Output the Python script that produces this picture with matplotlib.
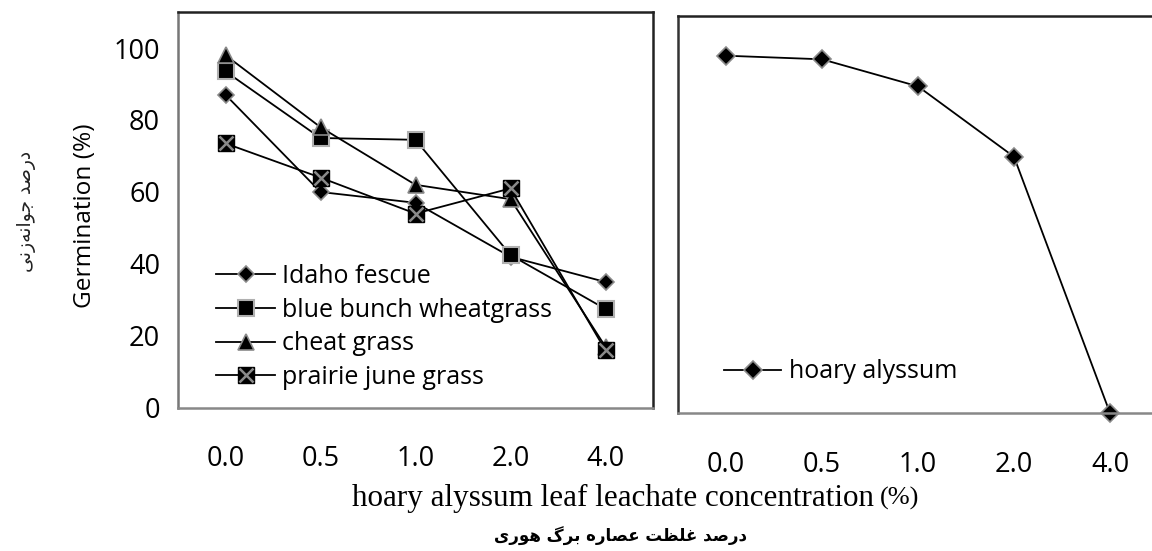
import matplotlib
matplotlib.use('Agg')
import matplotlib.pyplot as plt
import numpy as np

# data
concentrations = ['0.0', '0.5', '1.0', '2.0', '4.0']
idaho_fescue = [87, 60, 57, 42, 35]
blue_bunch = [93.5, 75, 74.5, 42.5, 27.5]
cheat_grass = [98, 78, 62, 58, 17]
prairie_june = [73.5, 64, 54, 61, 16]
hoary_alyssum = [99, 98, 90.5, 71, 0]

# crude persian shaping (matplotlib has no arabic shaping)
forms = {
    'ا': ('\uFE8D', '\uFE8E', None, None),
    'ب': ('\uFE8F', '\uFE90', '\uFE91', '\uFE92'),
    'ت': ('\uFE95', '\uFE96', '\uFE97', '\uFE98'),
    'ج': ('\uFE9D', '\uFE9E', '\uFE9F', '\uFEA0'),
    'د': ('\uFEA9', '\uFEAA', None, None),
    'ر': ('\uFEAD', '\uFEAE', None, None),
    'ز': ('\uFEAF', '\uFEB0', None, None),
    'ص': ('\uFEB9', '\uFEBA', '\uFEBB', '\uFEBC'),
    'ظ': ('\uFEC5', '\uFEC6', '\uFEC7', '\uFEC8'),
    'ع': ('\uFEC9', '\uFECA', '\uFECB', '\uFECC'),
    'غ': ('\uFECD', '\uFECE', '\uFECF', '\uFED0'),
    'ل': ('\uFEDD', '\uFEDE', '\uFEDF', '\uFEE0'),
    'ن': ('\uFEE5', '\uFEE6', '\uFEE7', '\uFEE8'),
    'ه': ('\uFEE9', '\uFEEA', '\uFEEB', '\uFEEC'),
    'و': ('\uFEED', '\uFEEE', None, None),
    'ی': ('\uFBFC', '\uFBFD', '\uFBFE', '\uFBFF'),
    'گ': ('\uFB92', '\uFB93', '\uFB94', '\uFB95'),
}


def shape(txt):
    out = []
    for i, ch in enumerate(txt):
        if ch not in forms:
            if ch != '\u200c':
                out.append(ch)
            continue
        prev = txt[i - 1] if i > 0 else ''
        nxt = txt[i + 1] if i + 1 < len(txt) else ''
        prev_join = prev in forms and forms[prev][2] is not None
        next_join = nxt in forms
        dual = forms[ch][2] is not None
        if prev_join and next_join and dual:
            out.append(forms[ch][3])
        elif prev_join:
            out.append(forms[ch][1])
        elif next_join and dual:
            out.append(forms[ch][2])
        else:
            out.append(forms[ch][0])
    return ''.join(out[::-1])


plt.rcParams['font.family'] = ['Open Sans', 'DejaVu Sans']

W, H = 1152, 551
fig = plt.figure(figsize=(W / 100, H / 100), dpi=100)

ax1 = fig.add_axes([178 / W, 1 - 408 / H, 475 / W, 396 / H])
ax2 = fig.add_axes([678 / W, 1 - 413 / H, 480 / W, 397 / H])

x = np.arange(len(concentrations))
grey = '#8a8a8a'

l1, = ax1.plot(x, idaho_fescue, color='black', lw=1.3, marker='D', ms=8,
               mfc='black', mec=grey, mew=1.2, label='Idaho fescue')
l2, = ax1.plot(x, blue_bunch, color='black', lw=1.3, marker='s', ms=11,
               mfc='black', mec='#b0b0b0', mew=1.5, label='blue bunch wheatgrass')
l3, = ax1.plot(x, cheat_grass, color='black', lw=1.3, marker='^', ms=12,
               mfc='black', mec=grey, mew=1.2, label='cheat grass')
l4a, = ax1.plot(x, prairie_june, color='black', lw=1.3, marker='s', ms=11,
                mfc='black', mec='black', mew=1)
l4b, = ax1.plot(x, prairie_june, color='none', marker='x', ms=10,
                mec=grey, mew=1.8)

ax1.legend([l1, l2, l3, (l4a, l4b)],
           ['Idaho fescue', 'blue bunch wheatgrass', 'cheat grass', 'prairie june grass'],
           loc='lower left', bbox_to_anchor=(0.081, 0.045), frameon=False,
           fontsize=18, handlelength=2.35, handletextpad=0.28, labelspacing=0.35,
           borderpad=0, borderaxespad=0)

l5, = ax2.plot(x, hoary_alyssum, color='black', lw=1.3, marker='D', ms=9,
               mfc='black', mec=grey, mew=1.2, label='hoary alyssum', clip_on=False)
ax2.legend(loc='lower left', bbox_to_anchor=(0.096, 0.072), frameon=False,
           fontsize=18, handlelength=2.28, handletextpad=0.32,
           borderpad=0, borderaxespad=0)

for ax in (ax1, ax2):
    ax.set_xlim(-0.5, 4.5)
    ax.set_ylim(0, 110)
    ax.set_xticks(x)
    ax.set_xticklabels(concentrations)
    ax.tick_params(axis='both', length=0, labelsize=19.5)
    ax.tick_params(axis='x', pad=27)
    ax.spines['top'].set_color('#222222')
    ax.spines['right'].set_color('#222222')
    ax.spines['left'].set_color('#777777')
    ax.spines['bottom'].set_color('#888888')
    for s in ax.spines.values():
        s.set_linewidth(1.8)

ax1.set_yticks([0, 20, 40, 60, 80, 100])
ax1.tick_params(axis='y', pad=13)
ax2.set_yticks([])
ax2.spines['left'].set_color('#333333')

fig.text(85 / W, 1 - 216 / H, 'Germination (%)', rotation=90,
         ha='center', va='center', fontsize=17.6)
fig.text(26 / W, 1 - 211 / H, shape('درصد جوانه\u200cزنی'), rotation=90,
         ha='center', va='center', fontsize=13.5, family='DejaVu Sans', color='#222222')

fig.text(352 / W, 1 - 498 / H, 'hoary alyssum leaf leachate concentration',
         ha='left', va='center', fontsize=22.4, family='Liberation Serif')
fig.text(880 / W, 1 - 498 / H, '(%)',
         ha='left', va='center', fontsize=19, family='Liberation Serif')
fig.text(620 / W, 1 - 536 / H, shape('درصد غلظت عصاره برگ هوری'),
         ha='center', va='center', fontsize=12, family='DejaVu Sans', weight='bold')

fig.savefig('out.png', dpi=100)
